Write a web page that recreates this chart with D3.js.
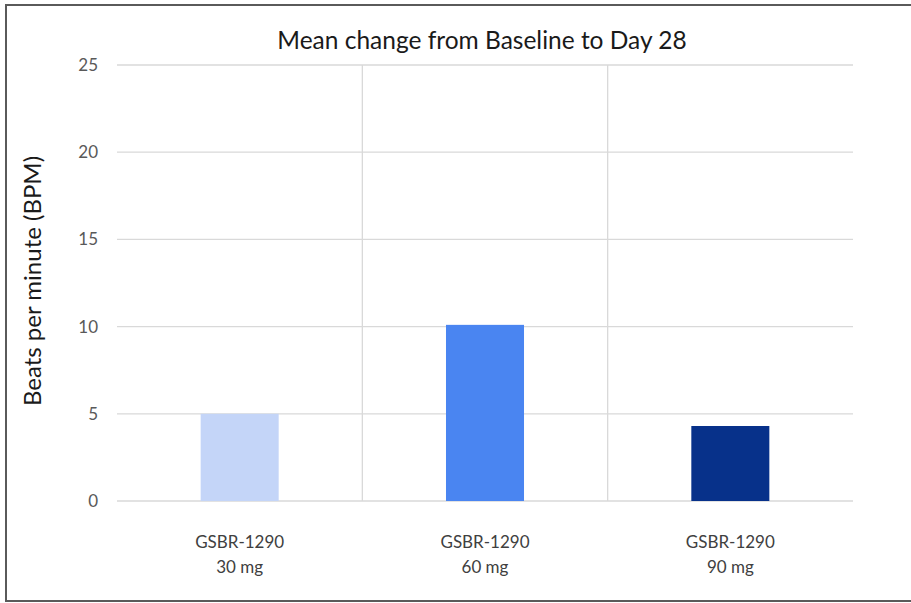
<!DOCTYPE html>
<html>
<head>
<meta charset="utf-8">
<script src="https://cdn.jsdelivr.net/npm/d3@7"></script>
<style>
  html, body { margin: 0; padding: 0; background: #fff; }
  svg { display: block; }
</style>
</head>
<body>
<svg id="chart" width="911" height="603"></svg>
<script>
// Chart data
const doseGroups = ["GSBR-1290|30 mg", "GSBR-1290|60 mg", "GSBR-1290|90 mg"];
const meanChange = [5.0, 10.1, 4.3];
const barColors = ["#c4d5f8", "#4a85f1", "#07318a"];
const yTicks = [0, 5, 10, 15, 20, 25];
const chartTitle = "Mean change from Baseline to Day 28";
const yTitle = "Beats per minute (BPM)";

const W = 911, H = 603;
const plot = { left: 117, right: 853, top: 65, bottom: 501 };
const font = "Lato, 'Open Sans', sans-serif";

const svg = d3.select("#chart");

// outer frame
svg.append("path")
  .attr("d", `M ${W + 5} 5 H 6 V 601 H ${W + 5}`)
  .attr("fill", "none")
  .attr("stroke", "#5a5a5a")
  .attr("stroke-width", 2);

const x = d3.scaleBand()
  .domain(doseGroups)
  .range([plot.left, plot.right])
  .paddingInner(0.682)
  .paddingOuter(0.341);

const y = d3.scaleLinear()
  .domain([0, 25])
  .range([plot.bottom, plot.top]);

// horizontal gridlines
svg.append("g")
  .selectAll("line")
  .data(yTicks)
  .join("line")
  .attr("x1", plot.left).attr("x2", plot.right)
  .attr("y1", d => y(d)).attr("y2", d => y(d))
  .attr("stroke", "#d9d9d9").attr("stroke-width", 1.3);

// vertical separators between dose groups
const step = x.step();
svg.append("g")
  .selectAll("line")
  .data(doseGroups.slice(1))
  .join("line")
  .attr("x1", d => x(d) - x.paddingInner() * step / 2)
  .attr("x2", d => x(d) - x.paddingInner() * step / 2)
  .attr("y1", y(25)).attr("y2", y(0))
  .attr("stroke", "#d9d9d9").attr("stroke-width", 1.3);

// y tick labels
svg.append("g")
  .selectAll("text")
  .data(yTicks)
  .join("text")
  .attr("x", 98)
  .attr("y", d => y(d))
  .attr("dy", "0.35em")
  .attr("text-anchor", "end")
  .attr("font-family", font)
  .attr("font-size", 17)
  .attr("fill", "#595959")
  .text(d => d);

// bars
svg.append("g")
  .selectAll("rect")
  .data(meanChange)
  .join("rect")
  .attr("x", (d, i) => x(doseGroups[i]))
  .attr("width", x.bandwidth())
  .attr("y", d => y(d))
  .attr("height", d => y(0) - y(d))
  .attr("fill", (d, i) => barColors[i]);

// category labels (two lines)
const cat = svg.append("g")
  .selectAll("text")
  .data(doseGroups)
  .join("text")
  .attr("x", d => x(d) + x.bandwidth() / 2)
  .attr("y", 548)
  .attr("text-anchor", "middle")
  .attr("font-family", font)
  .attr("font-size", 17)
  .attr("fill", "#404040");
cat.selectAll("tspan")
  .data(d => d.split("|"))
  .join("tspan")
  .attr("x", function () { return d3.select(this.parentNode).attr("x"); })
  .attr("dy", (d, i) => i === 0 ? 0 : 25)
  .text(d => d);

// chart title
svg.append("text")
  .attr("x", 482)
  .attr("y", 49)
  .attr("text-anchor", "middle")
  .attr("font-family", font)
  .attr("font-size", 24.5)
  .attr("fill", "#1a1a1a")
  .text(chartTitle);

// y axis title
svg.append("text")
  .attr("transform", `translate(41, ${(plot.top + plot.bottom) / 2 - 2}) rotate(-90)`)
  .attr("text-anchor", "middle")
  .attr("font-family", font)
  .attr("font-size", 24)
  .attr("fill", "#1a1a1a")
  .text(yTitle);
</script>
</body>
</html>
